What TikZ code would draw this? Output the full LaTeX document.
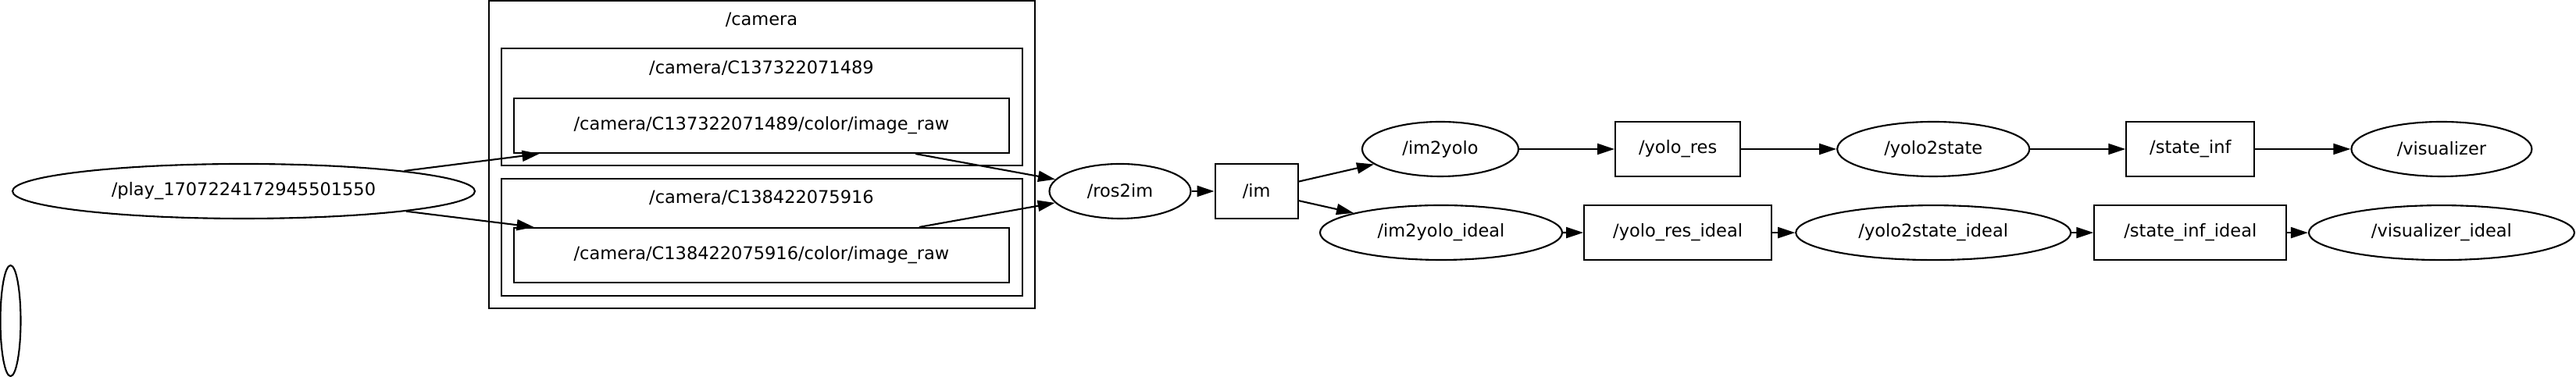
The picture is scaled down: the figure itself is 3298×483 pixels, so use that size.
\documentclass[tikz,border=0pt]{standalone}
\usepackage{fontspec}
\setmainfont{DejaVu Sans}
\usetikzlibrary{arrows.meta,positioning,shapes.geometric}

\begin{document}
\begin{tikzpicture}[
    x=0.1mm, y=-0.1mm,
    topic/.style={draw, line width=0.6pt, minimum height=7mm, inner sep=0pt, font=\fontsize{6.4}{7.5}\selectfont},
    proc/.style={draw, ellipse, line width=0.6pt, minimum height=7mm, inner sep=0pt, font=\fontsize{6.4}{7.5}\selectfont},
    grp/.style={draw, line width=0.7pt, inner sep=0pt},
    lbl/.style={inner sep=0pt, font=\fontsize{6.4}{7.5}\selectfont},
    arr/.style={-{Triangle[length=2.2mm, width=1.4mm]}, line width=0.6pt},
    node distance=3.5mm and 12.2mm
  ]
  \useasboundingbox (0,0) rectangle (3298,483);

  % camera groups
  \node[grp, minimum width=69.9mm, minimum height=39.4mm] (cam) at (975.5,198) {};
  \node[lbl] (camlbl) at (975,25) {/camera};
  \node[grp, minimum width=66.7mm, minimum height=15mm] (c137) at (975.5,137) {};
  \node[lbl] (c137lbl) at (975,87) {/camera/C137322071489};
  \node[grp, minimum width=66.7mm, minimum height=15mm] (c138) at (975.5,304) {};
  \node[lbl] (c138lbl) at (975,253) {/camera/C138422075916};
  \node[topic, minimum width=63.4mm] (raw1) at (975,161) {/camera/C137322071489/color/image\_raw};
  \node[topic, minimum width=63.4mm] (raw2) at (975,327) {/camera/C138422075916/color/image\_raw};

  \node[proc, minimum width=59.2mm] (play) at (312,245) {/play\_1707224172945501550};
  \node[proc, minimum width=2.6mm, minimum height=14.2mm] (blank) at (13.5,411) {};

  \node[proc, minimum width=18.1mm] (ros2im) at (1434,245) {/ros2im};
  \node[topic, minimum width=10.6mm, right=2.9mm of ros2im] (im) {/im};

  % top row
  \node[proc, minimum width=20mm] (im2yolo) at (1844,191) {/im2yolo};
  \node[topic, minimum width=16mm, right=of im2yolo] (yolores) {/yolo\_res};
  \node[proc, minimum width=24.6mm, right=of yolores] (yolo2state) {/yolo2state};
  \node[topic, minimum width=16.4mm, right=of yolo2state] (stateinf) {/state\_inf};
  \node[proc, minimum width=23.1mm, right=of stateinf] (vis) {/visualizer};

  % bottom row
  \node[proc, minimum width=31mm] (im2yoloideal) at (1845,298) {/im2yolo\_ideal};
  \node[topic, minimum width=24mm, below=of yolores] (yoloresideal) {/yolo\_res\_ideal};
  \node[proc, minimum width=35.2mm, below=of yolo2state] (yolo2stateideal) {/yolo2state\_ideal};
  \node[topic, minimum width=24.6mm, below=of stateinf] (stateinfideal) {/state\_inf\_ideal};
  \node[proc, minimum width=34mm, below=of vis] (visideal) {/visualizer\_ideal};

  \draw[arr] (play) -- (raw1);
  \draw[arr] (play) -- (raw2);
  \draw[arr] (raw1) -- (ros2im);
  \draw[arr] (raw2) -- (ros2im);
  \draw[arr] (ros2im) -- (im);
  \draw[arr] (im) -- (im2yolo);
  \draw[arr] (im) -- (im2yoloideal);
  \draw[arr] (im2yolo) -- (yolores);
  \draw[arr] (yolores) -- (yolo2state);
  \draw[arr] (yolo2state) -- (stateinf);
  \draw[arr] (stateinf) -- (vis);
  \draw[arr] (im2yoloideal) -- (yoloresideal);
  \draw[arr] (yoloresideal) -- (yolo2stateideal);
  \draw[arr] (yolo2stateideal) -- (stateinfideal);
  \draw[arr] (stateinfideal) -- (visideal);
\end{tikzpicture}
\end{document}
